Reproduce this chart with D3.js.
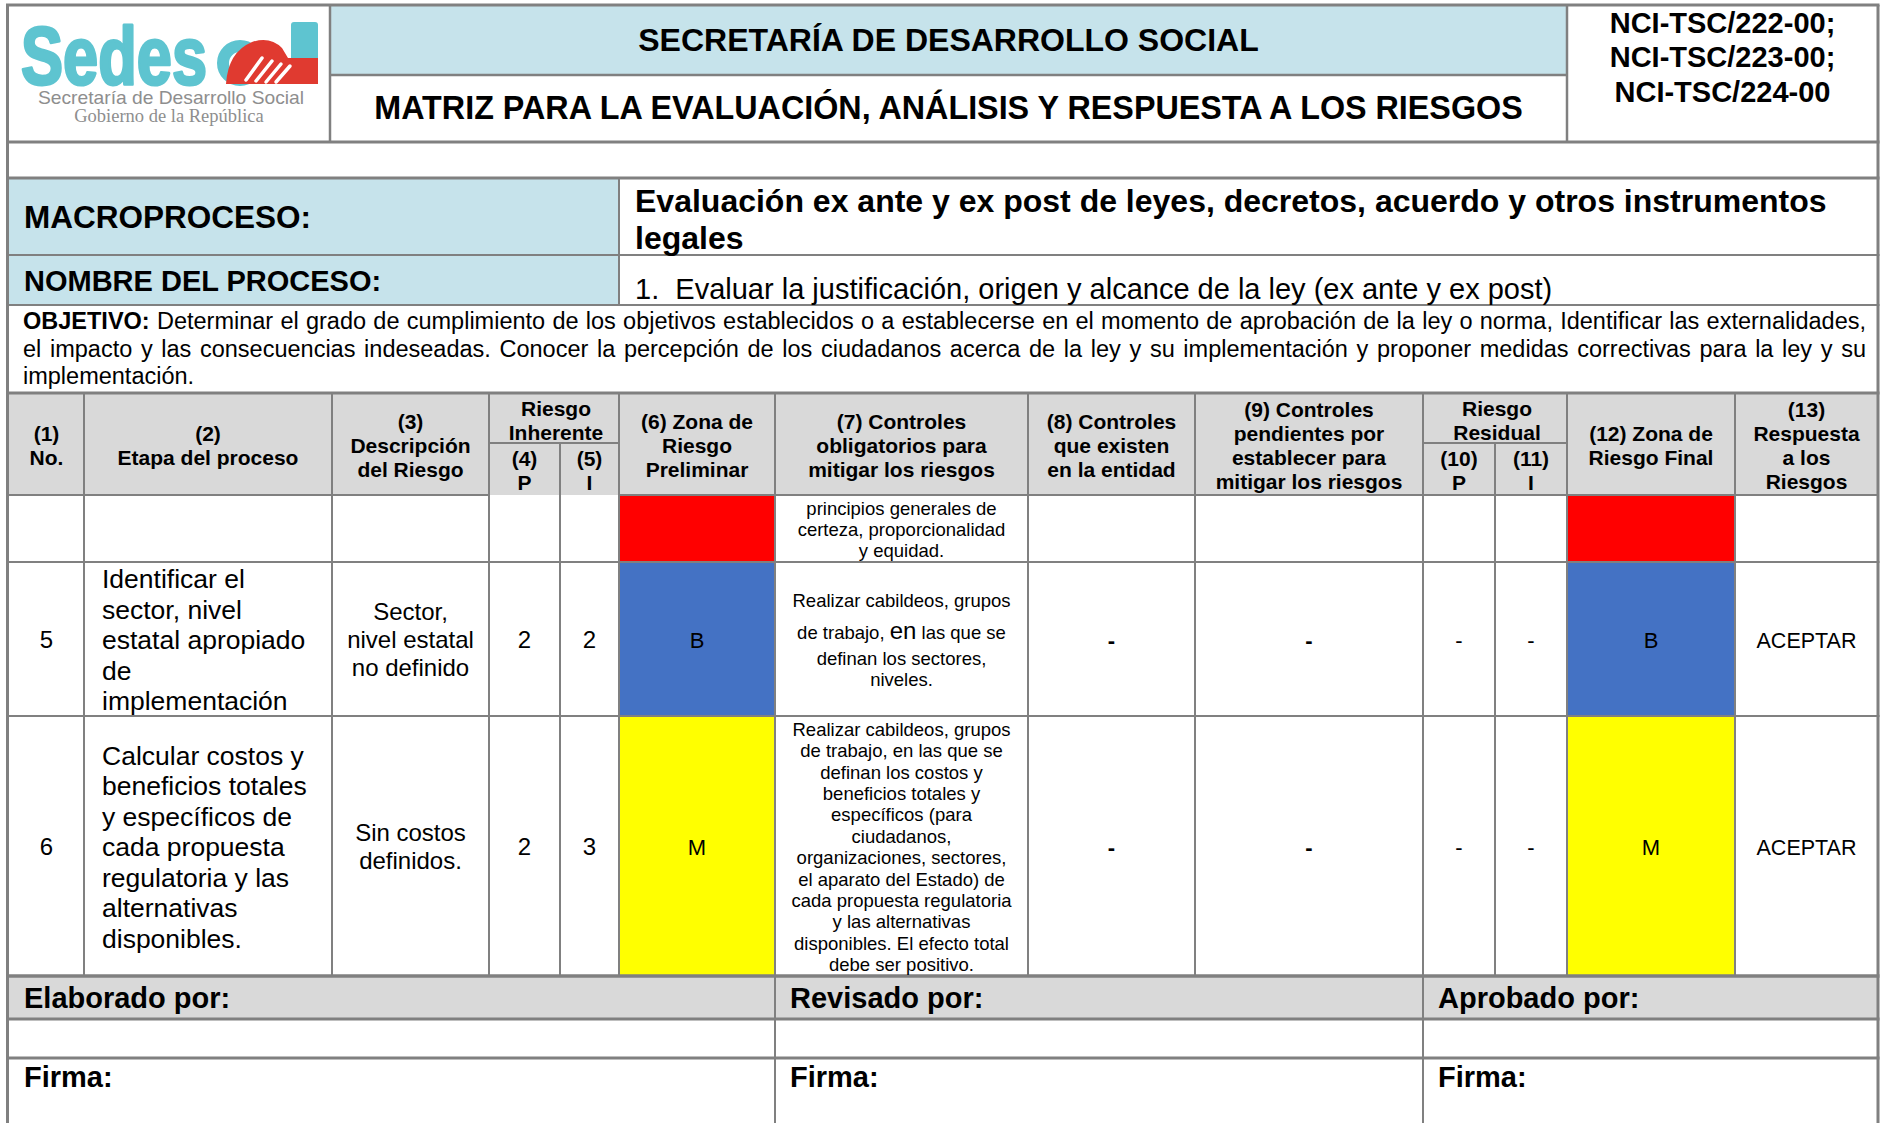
<!DOCTYPE html>
<html><head><meta charset="utf-8">
<script src="https://cdn.jsdelivr.net/npm/d3@7"></script>
<style>body{margin:0;background:#fff}svg{display:block}</style>
</head><body><div id="chart"></div>
<script>
// ================= DATA =================
const titleLines = ["SECRETARÍA DE DESARROLLO SOCIAL", "MATRIZ PARA LA EVALUACIÓN, ANÁLISIS Y RESPUESTA A LOS RIESGOS"];
const docCodes = ["NCI-TSC/222-00;", "NCI-TSC/223-00;", "NCI-TSC/224-00"];
const logoWord = ["Sedes", "l"];
const logoSub = ["Secretaría de Desarrollo Social", "Gobierno de la República"];
const macroLabel = "MACROPROCESO:";
const macroValue = ["Evaluación ex ante y ex post de leyes, decretos, acuerdo y otros instrumentos", "legales"];
const processLabel = "NOMBRE DEL PROCESO:";
const processValue = "1.\u00A0 Evaluar la justificación, origen y alcance de la ley (ex ante y ex post)";
const objectiveLabel = "OBJETIVO:";
const objectiveLines = [
  " Determinar el grado de cumplimiento de los objetivos establecidos o a establecerse en el momento de aprobación de la ley o norma, Identificar las externalidades,",
  "el impacto y las consecuencias indeseadas. Conocer la percepción de los ciudadanos acerca de la ley y su implementación y proponer medidas correctivas para la ley y su",
  "implementación."
];
const columnKeys = ["no","etapa","desc","p","i","zona","ctrlOblig","ctrlExist","ctrlPend","pRes","iRes","zonaFinal","resp"];
const columnHeaders = [
  ["(1)","No."], ["(2)","Etapa del proceso"], ["(3)","Descripción","del Riesgo"], ["(4)","P"], ["(5)","I"],
  ["(6) Zona de","Riesgo","Preliminar"], ["(7) Controles","obligatorios para","mitigar los riesgos"],
  ["(8) Controles","que existen","en la entidad"], ["(9) Controles","pendientes por","establecer para","mitigar los riesgos"],
  ["(10)","P"], ["(11)","I"], ["(12) Zona de","Riesgo Final"], ["(13)","Respuesta","a los","Riesgos"]
];
const groupLabels = [["Riesgo","Inherente"], ["Riesgo","Residual"]];
const groupColumns = [["p","i"], ["pRes","iRes"]];

const riskNo = ["", "5", "6"];
const etapa = [
  [],
  ["Identificar el","sector, nivel","estatal apropiado","de","implementación"],
  ["Calcular costos y","beneficios totales","y específicos de","cada propuesta","regulatoria y las","alternativas","disponibles."]
];
const descripcion = [[], ["Sector,","nivel estatal","no definido"], ["Sin costos","definidos."]];
const probInherente = ["", "2", "2"];
const impInherente = ["", "2", "3"];
const zonaPreliminar = ["A", "B", "M"];
const zonaPreliminarTxt = ["", "B", "M"];
const controlesOblig = [
  ["principios generales de","certeza, proporcionalidad","y equidad."],
  ["Realizar cabildeos, grupos","de trabajo, {en} las que se","definan los sectores,","niveles."],
  ["Realizar cabildeos, grupos","de trabajo, en las que se","definan los costos y","beneficios totales y","específicos (para","ciudadanos,","organizaciones, sectores,","el aparato del Estado) de","cada propuesta regulatoria","y las alternativas","disponibles. El efecto total","debe ser positivo."]
];
const controlesExist = ["", "-", "-"];
const controlesPend = ["", "-", "-"];
const probResidual = ["", "-", "-"];
const impResidual = ["", "-", "-"];
const zonaFinal = ["A", "B", "M"];
const zonaFinalTxt = ["", "B", "M"];
const respuesta = ["", "ACEPTAR", "ACEPTAR"];
const zoneLevels = ["A", "M", "B"];
const footerLabels = ["Elaborado por:", "Revisado por:", "Aprobado por:"];
const signLabel = "Firma:";

// ================= LAYOUT / STYLE =================
const W = 1885, H = 1123;
const FONT = '"Liberation Sans", Arial, Helvetica, sans-serif';
const LBLUE = "#C6E3EB", GREY = "#D9D9D9", LINE = "#808080";
const TEAL = "#5EC4D0", RED = "#E03A30";
const colEdges = [9,84,332,489,560,619,775,1028,1195,1423,1495,1567,1735,1878];
const rowEdges = [495,562,716,976];
const footEdges = [9,775,1423,1878];

const colX0 = d3.scaleOrdinal().domain(columnKeys).range(colEdges.slice(0,-1));
const colX1 = d3.scaleOrdinal().domain(columnKeys).range(colEdges.slice(1));
const rowIdx = d3.range(riskNo.length);
const rowY0 = d3.scaleOrdinal().domain(rowIdx).range(rowEdges.slice(0,-1));
const rowY1 = d3.scaleOrdinal().domain(rowIdx).range(rowEdges.slice(1));
const zoneColor = d3.scaleOrdinal().domain(zoneLevels).range(["#FF0000","#FFFF00","#4472C4"]);
const footX = d3.scaleOrdinal().domain(footerLabels).range(footEdges.slice(0,-1));

const rows = rowIdx.map(i => ({
  no: riskNo[i], etapa: etapa[i], desc: descripcion[i], p: probInherente[i], i: impInherente[i],
  zona: zonaPreliminarTxt[i], ctrlOblig: controlesOblig[i], ctrlExist: controlesExist[i], ctrlPend: controlesPend[i],
  pRes: probResidual[i], iRes: impResidual[i], zonaFinal: zonaFinalTxt[i], resp: respuesta[i],
  zoneA: zonaPreliminar[i], zoneB: zonaFinal[i]
}));

const cellStyle = {
  no:{fs:24}, etapa:{fs:26.5, lh:30.5, anchor:"start", pad:18}, desc:{fs:24, lh:28},
  p:{fs:24}, i:{fs:24}, zona:{fs:22}, ctrlOblig:{fs:18.5, lh:21.4, big:24},
  ctrlExist:{fs:22, weight:700}, ctrlPend:{fs:22, weight:700}, pRes:{fs:22}, iRes:{fs:22},
  zonaFinal:{fs:22}, resp:{fs:21.5}
};

const svg = d3.select("#chart").append("svg")
  .attr("width", W).attr("height", H).attr("viewBox", `0 0 ${W} ${H}`)
  .style("font-family", FONT);
svg.append("rect").attr("width", W).attr("height", H).attr("fill", "#fff");

// ---------- helpers ----------
function isBig(s){ return /\{[^}]+\}/.test(s); }
function addLines(g, lines, x, cy, fs, lh, o = {}) {
  lines = Array.isArray(lines) ? lines : [lines];
  const offs = [];
  let acc = 0;
  lines.forEach((ln, k) => {
    if (k > 0) acc += lh * (isBig(ln) ? 1.5 : (isBig(lines[k-1]) ? 1.22 : 1));
    offs.push(acc);
  });
  const mid = acc / 2;
  const t = g.append("text")
    .attr("font-size", fs).attr("font-weight", o.weight || 400)
    .attr("text-anchor", o.anchor || "middle").attr("fill", o.fill || "#000");
  lines.forEach((ln, k) => {
    const ts = t.append("tspan").attr("x", x).attr("y", cy + offs[k] - mid + fs * 0.35);
    ln.split(/(\{[^}]+\})/).filter(s => s.length).forEach(part => {
      if (/^\{.*\}$/.test(part)) ts.append("tspan").attr("font-size", o.big || fs).text(part.slice(1, -1));
      else ts.append("tspan").text(part);
    });
  });
  return t;
}

// ---------- background fills ----------
const fills = [
  {x0:330, x1:1567, y0:5, y1:75, c:LBLUE},
  {x0:9, x1:619, y0:178, y1:305, c:LBLUE},
  {x0:9, x1:1878, y0:393, y1:495, c:GREY},
  {x0:9, x1:1878, y0:976, y1:1019, c:GREY}
];
svg.selectAll("rect.bg").data(fills).join("rect").attr("class","bg")
  .attr("x", d => d.x0).attr("y", d => d.y0).attr("width", d => d.x1 - d.x0).attr("height", d => d.y1 - d.y0)
  .attr("fill", d => d.c);

// zone cells (from data)
const zoneCells = [];
rows.forEach((r, i) => {
  zoneCells.push({key:"zona", i, level:r.zoneA});
  zoneCells.push({key:"zonaFinal", i, level:r.zoneB});
});
svg.selectAll("rect.zone").data(zoneCells).join("rect").attr("class","zone")
  .attr("x", d => colX0(d.key)).attr("y", d => rowY0(d.i))
  .attr("width", d => colX1(d.key) - colX0(d.key)).attr("height", d => rowY1(d.i) - rowY0(d.i))
  .attr("fill", d => zoneColor(d.level));

// ---------- grid lines ----------
const segs = [];
const H_ = (y, x0, x1, w) => segs.push({x1:x0, x2:x1, y1:y, y2:y, w});
const V_ = (x, y0, y1, w) => segs.push({x1:x, x2:x, y1:y0, y2:y1, w});
H_(5, 6, 1879.5, 3);
H_(75, 330, 1567, 2.5);
H_(142, 6, 1879.5, 3);
H_(178, 6, 1879.5, 3);
H_(255, 6, 1879.5, 2);
H_(305, 6, 1879.5, 2);
H_(393, 6, 1879.5, 3);
groupColumns.forEach(gc => H_(443, colX0(gc[0]), colX1(gc[1]), 2));
columnKeys.forEach(k => { if (!groupColumns[0].includes(k)) H_(495, colX0(k), colX1(k), 2); });
H_(562, 6, 1879.5, 2);
H_(716, 6, 1879.5, 2);
H_(976, 6, 1879.5, 3.5);
H_(1019, 6, 1879.5, 3);
H_(1058, 6, 1879.5, 3);
V_(7.5, 5, H, 3);
V_(1878, 5, H, 3);
V_(330, 5, 142, 2.5);
V_(1567, 5, 142, 2.5);
V_(619, 178, 305, 2);
columnKeys.forEach((k, j) => {
  if (j === 0) return;
  const inGroup = groupColumns.some(gc => gc[1] === k);
  V_(colX0(k), inGroup ? 443 : 393, 976, 2);
});
footEdges.slice(1, -1).forEach(x => V_(x, 976, H, 2));
svg.selectAll("line.grid").data(segs).join("line").attr("class","grid")
  .attr("x1", d => d.x1).attr("x2", d => d.x2).attr("y1", d => d.y1).attr("y2", d => d.y2)
  .attr("stroke", LINE).attr("stroke-width", d => d.w);

// ---------- logo ----------
const logo = svg.append("g");
logo.append("text").attr("x", 21).attr("y", 84).attr("font-size", 82).attr("font-weight", 700)
  .attr("fill", TEAL).attr("stroke", TEAL).attr("stroke-width", 3).attr("stroke-linejoin", "round")
  .attr("textLength", 186).attr("lengthAdjust", "spacingAndGlyphs").text(logoWord[0]);
logo.append("circle").attr("cx", 240).attr("cy", 63).attr("r", 17).attr("fill", "none")
  .attr("stroke", TEAL).attr("stroke-width", 12);
logo.append("rect").attr("x", 291).attr("y", 22).attr("width", 27).attr("height", 40).attr("rx", 3).attr("fill", TEAL);
logo.append("path").attr("d", "M 226 84 Q 228 52 252 42 Q 270 36 282 48 L 288 58 L 318 58 L 318 84 Z").attr("fill", RED);
[[246,80,262,58],[256,81,272,61],[266,82,281,64],[276,82,290,66]].forEach(s =>
  logo.append("line").attr("x1", s[0]).attr("y1", s[1]).attr("x2", s[2]).attr("y2", s[3])
    .attr("stroke", "#fff").attr("stroke-width", 3.5).attr("stroke-linecap", "round"));
logo.append("text").attr("x", 171).attr("y", 104).attr("text-anchor", "middle").attr("font-size", 19)
  .attr("fill", "#8E8E8E").attr("textLength", 266).attr("lengthAdjust", "spacingAndGlyphs").text(logoSub[0]);
logo.append("text").attr("x", 169).attr("y", 122).attr("text-anchor", "middle").attr("font-size", 18.5)
  .attr("font-family", '"Liberation Serif", "Times New Roman", serif')
  .attr("fill", "#8E8E8E").text(logoSub[1]);

// ---------- titles ----------
addLines(svg, titleLines[0], 948.5, 40, 32, 0, {weight:700});
addLines(svg, titleLines[1], 948.5, 108, 32.3, 0, {weight:700});
addLines(svg, docCodes, 1722.5, 57, 29, 34.5, {weight:700});

// ---------- process info ----------
addLines(svg, macroLabel, 24, 217, 31.5, 0, {weight:700, anchor:"start"});
addLines(svg, macroValue, 635, 219, 32, 37, {weight:700, anchor:"start"});
addLines(svg, processLabel, 24, 281, 29, 0, {weight:700, anchor:"start"});
addLines(svg, processValue, 635, 289, 29, 0, {anchor:"start"});

// objective (justified first two lines)
const objY = [321, 348.5, 376];
const OBJ_FS = 23.5;
objectiveLines.forEach((ln, k) => {
  const t = svg.append("text").attr("x", 23).attr("y", objY[k] + OBJ_FS * 0.35).attr("font-size", OBJ_FS);
  if (k === 0) t.append("tspan").attr("font-weight", 700).text(objectiveLabel);
  t.append("tspan").text(ln);
  if (k < objectiveLines.length - 1) {
    const full = (k === 0 ? objectiveLabel : "") + ln;
    const spaces = (full.match(/ /g) || []).length;
    const natural = t.node().getComputedTextLength();
    t.style("word-spacing", ((1866 - 23 - natural) / spaces) + "px");
  }
});

// ---------- column headers ----------
const HFS = 21, HLH = 24;
columnKeys.forEach((k, j) => {
  const inGroup = groupColumns.some(gc => gc.includes(k));
  const cx = (colX0(k) + colX1(k)) / 2;
  addLines(svg, columnHeaders[j], cx, inGroup ? 470.5 : 446, HFS, HLH, {weight:700});
});
groupColumns.forEach((gc, g) => {
  addLines(svg, groupLabels[g], (colX0(gc[0]) + colX1(gc[1])) / 2 + 2, 420.5, HFS, HLH, {weight:700});
});

// ---------- body rows ----------
rows.forEach((r, i) => {
  const cy = (rowY0(i) + rowY1(i)) / 2 + 1;
  columnKeys.forEach(k => {
    const v = r[k];
    if (!v || (Array.isArray(v) && !v.length)) return;
    const st = cellStyle[k];
    const x = st.anchor === "start" ? colX0(k) + st.pad : (colX0(k) + colX1(k)) / 2;
    addLines(svg, v, x, cy, st.fs, st.lh || 0, {anchor: st.anchor, weight: st.weight, big: st.big});
  });
});

// ---------- footer ----------
footerLabels.forEach(lab => {
  addLines(svg, lab, footX(lab) + 15, 998, 29, 0, {weight:700, anchor:"start"});
  addLines(svg, signLabel, footX(lab) + 15, 1077, 29, 0, {weight:700, anchor:"start"});
});
</script>
</body></html>
